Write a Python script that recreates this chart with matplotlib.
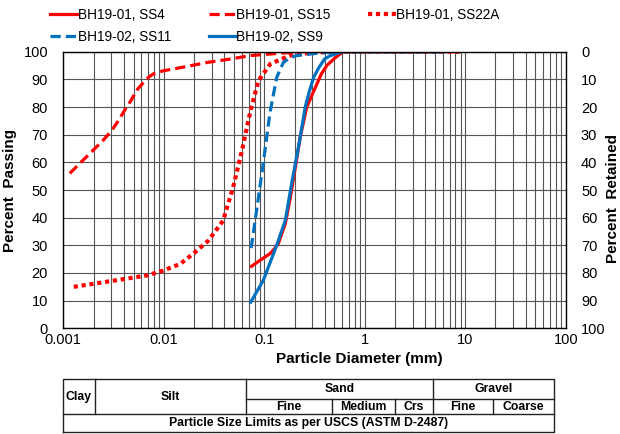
import numpy as np
import matplotlib
matplotlib.use("Agg")
from matplotlib import pyplot as plt
from matplotlib.ticker import LogLocator, FixedLocator, NullFormatter

plt.rcParams['font.family'] = ['Liberation Sans', 'DejaVu Sans']

# grain size curves (diameter mm, percent passing)
ss4_d = [0.0745, 0.09, 0.114, 0.125, 0.138, 0.162, 0.182, 0.204, 0.228, 0.265, 0.3, 0.334,
         0.37, 0.42, 0.5, 0.57, 0.62, 4.75]
ss4_p = [22.4, 24.5, 27.0, 28.5, 30.6, 37.8, 47.4, 58.3, 69.1, 80.0, 84.5, 88.3,
         92.0, 95.0, 97.6, 99.2, 100, 100]

ss15_d = [0.00116, 0.0017, 0.0025, 0.0031, 0.0036, 0.0041, 0.0047, 0.0055, 0.0065, 0.0072,
          0.0079, 0.0099, 0.015, 0.027, 0.045, 0.073, 0.15, 0.25, 9.5]
ss15_p = [56.0, 62.0, 68.0, 72.0, 75.5, 79.0, 82.3, 86.5, 89.5, 91.0,
          92.0, 93.1, 94.3, 96.1, 97.3, 98.6, 99.5, 100, 100]

ss22a_d = [0.00127, 0.0068, 0.0099, 0.0146, 0.0197, 0.028, 0.039, 0.049, 0.060, 0.073,
           0.0875, 0.115, 0.18, 0.3, 0.6, 9.5]
ss22a_p = [15.0, 19.1, 20.9, 23.3, 27.0, 31.8, 39.0, 51.0, 64.3, 78.7,
           89.5, 95.6, 98.6, 99.7, 100, 100]

ss11_d = [0.074, 0.085, 0.098, 0.114, 0.133, 0.155, 0.18, 0.21, 0.33, 0.5, 6.3]
ss11_p = [29.0, 44.0, 60.0, 78.0, 90.7, 96.1, 97.8, 98.6, 99.4, 100, 100]

ss9_d = [0.0735, 0.098, 0.115, 0.133, 0.145, 0.162, 0.187, 0.219, 0.256, 0.28, 0.31,
         0.35, 0.40, 0.45, 0.53, 0.6, 6.3]
ss9_p = [9.5, 17.4, 24.0, 30.0, 34.0, 39.0, 52.2, 65.5, 80.0, 85.5, 90.7,
         94.3, 97.4, 98.5, 99.4, 100, 100]

# USCS size limits shown in the table under the chart
limits = [0.001, 0.00205, 0.066, 0.47, 2.0, 4.77, 18.7, 75.7]

red = '#ff0000'
blue = '#0070c0'

fig = plt.figure(figsize=(6.2, 4.34), dpi=100)
ax = fig.add_axes([0.1021, 0.2435, 0.8103, 0.6374])

l1, = ax.plot(ss4_d, ss4_p, color=red, lw=2.3, label='BH19-01, SS4')
l2, = ax.plot(ss15_d, ss15_p, color=red, lw=2.3, dashes=(3.2, 1.6), label='BH19-01, SS15')
l3, = ax.plot(ss22a_d, ss22a_p, color=red, lw=3.0, dashes=(1, 0.9),
              dash_capstyle='butt', label='BH19-01, SS22A')
l4, = ax.plot(ss11_d, ss11_p, color=blue, lw=2.3, dashes=(3.2, 1.6), label='BH19-02, SS11')
l5, = ax.plot(ss9_d, ss9_p, color=blue, lw=2.3, label='BH19-02, SS9')

ax.set_xscale('log')
ax.set_xlim(0.001, 100)
ax.set_ylim(0, 100)
ax.set_yticks(np.arange(0, 101, 10))
ax.xaxis.set_major_locator(FixedLocator([0.001, 0.01, 0.1, 1, 10, 100]))
ax.set_xticklabels(['0.001', '0.01', '0.1', '1', '10', '100'])
ax.xaxis.set_minor_locator(LogLocator(base=10, subs=np.arange(2, 10)))
ax.xaxis.set_minor_formatter(NullFormatter())
ax.grid(True, which='both', axis='x', color='#555555', lw=0.8)
ax.grid(True, which='major', axis='y', color='#555555', lw=0.8)
ax.tick_params(axis='x', which='both', length=0, pad=3.5, labelsize=10.5)
ax.tick_params(axis='y', length=0, pad=11, labelsize=10.5)
for s in ax.spines.values():
    s.set_color('black')
    s.set_linewidth(1.0)

ax.set_xlabel('Particle Diameter (mm)', fontsize=11, fontweight='bold')
ax.xaxis.set_label_coords(0.589, -0.085)
ax.set_ylabel('Percent  Passing', fontsize=11, fontweight='bold')
ax.yaxis.set_label_coords(-0.092, 0.5)

ax2 = ax.twinx()
ax2.set_ylim(100, 0)
ax2.set_yticks(np.arange(0, 101, 10))
ax2.tick_params(axis='y', length=0, pad=11, labelsize=10.5)
ax2.set_ylabel('Percent  Retained', fontsize=11, fontweight='bold')
ax2.yaxis.set_label_coords(1.08, 0.47)
for s in ax2.spines.values():
    s.set_visible(False)

handles = [l1, l4, l2, l5, l3]
fig.legend(handles=handles, labels=[h.get_label() for h in handles], ncol=3,
           loc='upper left', bbox_to_anchor=(50 / 620, 1 - 8 / 434),
           frameon=False, fontsize=9.8, handlelength=2.0, handletextpad=0.05,
           columnspacing=2.75, labelspacing=0.58, borderpad=0, borderaxespad=0)

# soil classification table
tb = fig.add_axes([0.1021, 0.0039, 0.8103, 0.1221])
tb.set_xscale('log')
tb.set_xlim(0.001, 100)
tb.set_ylim(0, 1)
tb.axis('off')

y_bot = 0.34
y_mid = 0.628
kw = dict(color='#222222', lw=1.0, clip_on=False)
x0, x_end = limits[0], limits[-1]
tb.plot([x0, x_end, x_end, x0, x0], [0, 0, 1, 1, 0], **kw)
tb.plot([x0, x_end], [y_bot, y_bot], **kw)
tb.plot([limits[2], x_end], [y_mid, y_mid], **kw)
for i in [1, 2, 5]:
    tb.plot([limits[i], limits[i]], [y_bot, 1], **kw)
for i in [3, 4, 6]:
    tb.plot([limits[i], limits[i]], [y_bot, y_mid], **kw)


def gmid(a, b):
    return np.sqrt(a * b)


tkw = dict(fontsize=8.8, fontweight='bold', ha='center', va='center')
tb.text(gmid(limits[0], limits[1]), (y_bot + 1) / 2, 'Clay', **tkw)
tb.text(gmid(limits[1], limits[2]), (y_bot + 1) / 2, 'Silt', **tkw)
tb.text(gmid(limits[2], limits[5]), (y_mid + 1) / 2, 'Sand', **tkw)
tb.text(gmid(limits[5], limits[7]), (y_mid + 1) / 2, 'Gravel', **tkw)
sub_names = ['Fine', 'Medium', 'Crs', 'Fine', 'Coarse']
for name, a, b in zip(sub_names, limits[2:7], limits[3:8]):
    tb.text(gmid(a, b), (y_bot + y_mid) / 2, name, **tkw)
tb.text(gmid(x0, x_end), y_bot / 2, 'Particle Size Limits as per USCS (ASTM D-2487)', **tkw)

plt.savefig('out.png', dpi=100)
